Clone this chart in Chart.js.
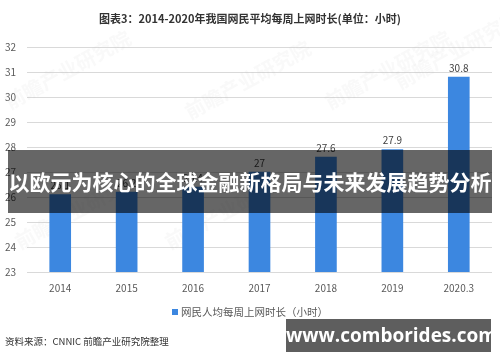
<!DOCTYPE html>
<html>
<head>
<meta charset="utf-8">
<script src="https://cdn.jsdelivr.net/npm/chart.js@4/dist/chart.umd.min.js"></script>
<style>
  html, body { margin: 0; padding: 0; background: #fff; }
  #wrap { position: relative; width: 500px; height: 362px; overflow: hidden; }
  #banner {
    position: absolute; left: 8px; top: 150px; width: 484px; height: 63px;
    background: rgba(0, 0, 0, 0.6); color: #fff;
    font: bold 21px "Noto Sans CJK SC", sans-serif;
    line-height: 63px; text-align: center; white-space: nowrap; letter-spacing: 0;
  }
  #site {
    position: absolute; left: 286px; top: 319px; width: 205px; height: 33px;
    background: #5e5e5e; color: #fff;
    font: bold 19px "Open Sans", sans-serif;
    line-height: 33px; text-align: center; white-space: nowrap;
  }
</style>
</head>
<body>
<div id="wrap">
  <canvas id="chart" width="500" height="362"></canvas>
  <div id="banner">以欧元为核心的全球金融新格局与未来发展趋势分析</div>
  <div id="site">www.comborides.com</div>
</div>
<script>
const years = ['2014', '2015', '2016', '2017', '2018', '2019', '2020.3'];
const hours = [26.1, 26.2, 26.4, 27, 27.6, 27.9, 30.8];
const yTicks = [23, 24, 25, 26, 27, 28, 29, 30, 31, 32];
const chartTitle = '图表3：2014-2020年我国网民平均每周上网时长(单位：小时)';
const seriesName = '网民人均每周上网时长（小时）';
const sourceNote = '资料来源：CNNIC 前瞻产业研究院整理';

const CJK = '"Noto Sans CJK SC", sans-serif';

const extras = {
  id: 'extras',
  beforeDatasetsDraw(chart) {
    const ctx = chart.ctx;
    // faint publisher watermarks
    ctx.save();
    ctx.fillStyle = 'rgba(200, 200, 200, 0.1)';
    ctx.font = 'bold 20px ' + CJK;
    [[10, 110], [190, 120], [330, 110], [170, 250], [20, 250], [400, 90]].forEach(p => {
      ctx.save();
      ctx.translate(p[0], p[1]);
      ctx.rotate(-0.5);
      ctx.fillText('前瞻产业研究院', 0, 0);
      ctx.restore();
    });
    ctx.restore();
  },
  afterDatasetsDraw(chart) {
    const ctx = chart.ctx;
    const meta = chart.getDatasetMeta(0);
    ctx.save();
    ctx.fillStyle = '#404040';
    ctx.font = '10px ' + CJK;
    ctx.textAlign = 'center';
    ctx.textBaseline = 'bottom';
    meta.data.forEach((bar, i) => {
      ctx.fillText(String(hours[i]), bar.x, bar.y - 4);
    });
    ctx.restore();
  },
  afterDraw(chart) {
    const ctx = chart.ctx;
    ctx.save();
    // title
    ctx.fillStyle = '#333';
    ctx.font = 'bold 11px ' + CJK;
    ctx.textAlign = 'center';
    ctx.textBaseline = 'middle';
    ctx.fillText(chartTitle, 250, 19);
    // legend
    ctx.font = '10.5px ' + CJK;
    const label = chart.data.datasets[0].label;
    const w = ctx.measureText(label).width;
    const x0 = 250 - (w + 9) / 2;
    ctx.fillStyle = chart.data.datasets[0].backgroundColor;
    ctx.fillRect(x0, 309, 6, 6);
    ctx.fillStyle = '#595959';
    ctx.textAlign = 'left';
    ctx.fillText(label, x0 + 9, 312);
    // source
    ctx.fillStyle = '#333';
    ctx.font = '9.5px ' + CJK;
    ctx.fillText(sourceNote, 5, 341);
    ctx.restore();
  }
};

new Chart(document.getElementById('chart'), {
  type: 'bar',
  data: {
    labels: years,
    datasets: [{
      label: seriesName,
      data: hours,
      backgroundColor: '#3c87e0',
      barThickness: 21
    }]
  },
  options: {
    responsive: false,
    animation: false,
    layout: { padding: { top: 47, right: 8, left: 0, bottom: 0 } },
    plugins: {
      legend: { display: false },
      title: { display: false },
      tooltip: { enabled: false }
    },
    scales: {
      x: {
        grid: { display: false, drawTicks: false },
        border: { display: false },
        ticks: { color: '#595959', font: { size: 10, family: CJK }, padding: 10 },
        afterFit(scale) { scale.height = 90; }
      },
      y: {
        min: yTicks[0],
        max: yTicks[yTicks.length - 1],
        afterBuildTicks(scale) { scale.ticks = yTicks.map(v => ({ value: v })); },
        grid: { color: '#d9d9d9', drawTicks: false },
        border: { display: false },
        ticks: { color: '#595959', font: { size: 10, family: CJK }, padding: 11 },
        afterFit(scale) { scale.width = 27; }
      }
    }
  },
  plugins: [extras]
});
</script>
</body>
</html>
